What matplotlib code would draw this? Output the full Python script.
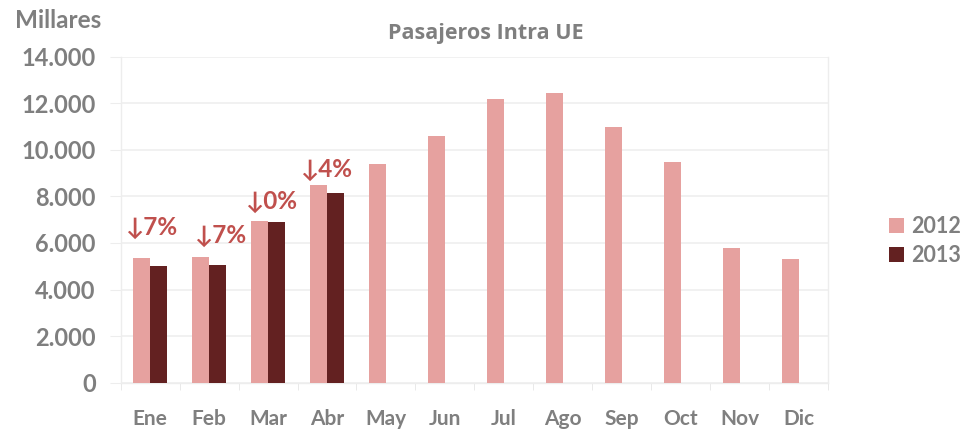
import matplotlib
matplotlib.use("Agg")
import matplotlib.pyplot as plt
import numpy as np

months = ["Ene", "Feb", "Mar", "Abr", "May", "Jun", "Jul", "Ago", "Sep", "Oct", "Nov", "Dic"]
pax_2012 = [5340, 5395, 6950, 8500, 9375, 10590, 12160, 12430, 10990, 9485, 5780, 5295]
pax_2013 = [5010, 5065, 6885, 8155]
change_labels = ["↓7%", "↓7%", "↓0%", "↓4%"]
yticks = [0, 2000, 4000, 6000, 8000, 10000, 12000, 14000]
ytick_labels = ["0", "2.000", "4.000", "6.000", "8.000", "10.000", "12.000", "14.000"]

C2012 = "#E6A19F"
C2013 = "#632121"
CRED = "#C0504D"
GRAY = "#7F7F7F"
FONT = ["Lato", "DejaVu Sans"]

fig = plt.figure(figsize=(9.67, 4.34), dpi=100)
ax = fig.add_axes([0.1248, 0.1182, 0.7315, 0.7516])

x = np.arange(len(months))
w = 0.283
ax.bar(x - w / 2, pax_2012, width=w, color=C2012, label="2012", zorder=3)
x13 = np.arange(len(pax_2013))
ax.bar(x13 + w / 2, pax_2013, width=w, color=C2013, label="2013", zorder=3)

# annotation placement (style, not data)
ann_dx = [0.02, 0.19, 0.05, -0.02]
ann_y = [6680, 6300, 7775, 9130]
for i, lab in enumerate(change_labels):
    ax.text(i + ann_dx[i], ann_y[i], lab, ha="center", va="center",
            color=CRED, fontsize=17.5, fontweight="bold", family=FONT, zorder=4)

ax.set_xlim(-0.5, len(months) - 0.5)
ax.set_ylim(0, 14000)
ax.set_yticks(yticks)
ax.set_yticklabels(ytick_labels)
ax.set_xticks(x)
ax.set_xticklabels(months)
ax.set_xticks(np.arange(-0.5, len(months), 1), minor=True)

ax.grid(axis="y", color="#EFEFEF", linewidth=1.2, zorder=0)
ax.spines["top"].set_visible(False)
for s in ["left", "right", "bottom"]:
    ax.spines[s].set_color("#EDEDED")
    ax.spines[s].set_linewidth(1.0)

ax.tick_params(axis="y", length=8, color="#EDEDED", pad=10, labelcolor=GRAY)
ax.tick_params(axis="x", which="major", length=0, pad=19, labelcolor=GRAY)
ax.tick_params(axis="x", which="minor", length=5, color="#E5E5E5")
for t in ax.get_yticklabels():
    t.set_fontfamily(FONT)
    t.set_fontsize(17)
    t.set_fontweight("bold")
for t in ax.get_xticklabels():
    t.set_fontfamily(FONT)
    t.set_fontsize(15)
    t.set_fontweight("bold")

fig.text(486 / 967, 1 - 34 / 434, "Pasajeros Intra UE", ha="center", va="center",
         color=GRAY, fontsize=15.5, fontweight="bold", family=["Open Sans", "DejaVu Sans"])
fig.text(15 / 967, 1 - 21 / 434, "Millares", ha="left", va="center",
         color=GRAY, fontsize=17.5, fontweight="bold", family=FONT)

leg = fig.legend(loc="center left", bbox_to_anchor=(889 / 967, 1 - 241 / 434),
                 frameon=False, handlelength=0.7, handleheight=0.7,
                 handletextpad=0.35, labelspacing=0.35, borderaxespad=0, borderpad=0,
                 prop={"family": FONT, "size": 15.5, "weight": "bold"})
for t in leg.get_texts():
    t.set_color(GRAY)

fig.savefig("out.png", dpi=100)
